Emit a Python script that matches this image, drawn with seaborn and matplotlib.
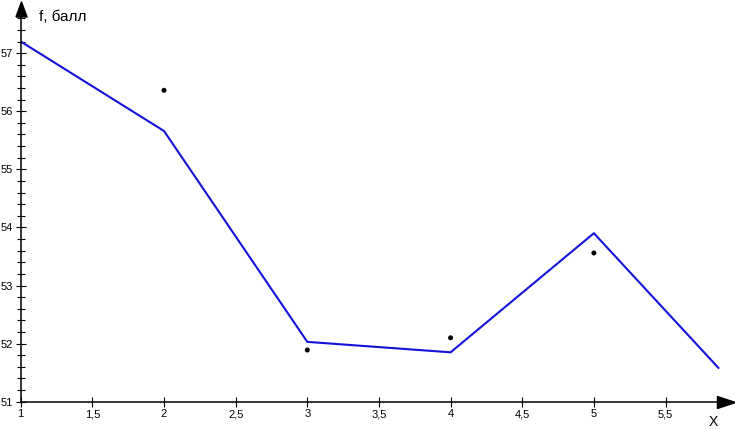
import numpy as np
import matplotlib
matplotlib.use("Agg")
import matplotlib.pyplot as plt
from matplotlib.ticker import FixedLocator, FuncFormatter
import seaborn as sns

# model curve f(x)
line_x = [1, 2, 3, 4, 5, 5.87]
line_f = [57.20, 55.66, 52.03, 51.85, 53.90, 51.58]

# observed points
dot_x = [2, 3, 4, 5]
dot_f = [56.36, 51.89, 52.10, 53.56]

x_ticks = [1, 1.5, 2, 2.5, 3, 3.5, 4, 4.5, 5, 5.5]
y_ticks = [51, 52, 53, 54, 55, 56, 57]

sns.set_style("white")
plt.rcParams["font.family"] = ["Liberation Sans", "DejaVu Sans"]

fig = plt.figure(figsize=(7.35, 4.29), dpi=100)
ax = fig.add_axes([20.7 / 735, 27.3 / 429, (726 - 20.7) / 735, (419.8 - 27.3) / 429])

sns.lineplot(x=line_x, y=line_f, ax=ax, color="#1212d8", linewidth=1.5, sort=False)
sns.scatterplot(x=dot_x, y=dot_f, ax=ax, color="black", s=13, edgecolor="none", zorder=5)

ax.set_xlim(1, 5.922)
ax.set_ylim(51, 57.756)

for side in ["top", "right"]:
    ax.spines[side].set_visible(False)
for side in ["left", "bottom"]:
    ax.spines[side].set_color("black")
    ax.spines[side].set_linewidth(1.1)

comma = FuncFormatter(lambda v, pos: f"{v:g}".replace(".", ","))
ax.xaxis.set_major_locator(FixedLocator(x_ticks))
ax.xaxis.set_major_formatter(comma)
ax.yaxis.set_major_locator(FixedLocator(y_ticks))
ax.yaxis.set_major_formatter(comma)
ax.yaxis.set_minor_locator(FixedLocator(np.arange(51.2, 57.7, 0.2)))

ax.tick_params(axis="both", which="both", direction="inout", length=7, width=0.8,
               color="black", labelsize=8, labelcolor="black",
               bottom=True, left=True, top=False, right=False)
ax.tick_params(axis="y", which="minor", length=6)
ax.tick_params(axis="x", pad=2)
ax.tick_params(axis="y", pad=2)
ax.set_xlabel("")
ax.set_ylabel("")

# axis arrows
up = [(-0.37, -0.5), (0.37, -0.5), (0, 0.5), (-0.37, -0.5)]
right = [(-0.5, -0.33), (0.5, 0), (-0.5, 0.33), (-0.5, -0.33)]
ax.plot([0], [1], marker=up, markersize=10.8, color="black",
        transform=ax.transAxes, clip_on=False, zorder=10)
ax.plot([1], [0], marker=right, markersize=13, color="black",
        transform=ax.transAxes, clip_on=False, zorder=10)

fig.text(39 / 735, 1 - 21 / 429, "f, балл", fontsize=11, color="black", va="baseline")
fig.text(713 / 735, 1 - 426 / 429, "X", fontsize=10, color="black", ha="center", va="baseline")

fig.savefig("out.png", dpi=100)
